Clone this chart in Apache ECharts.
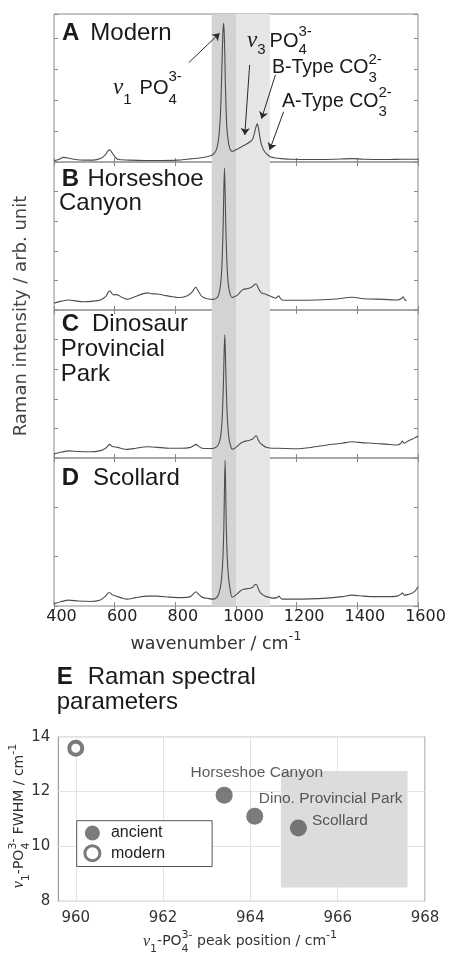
<!DOCTYPE html>
<html><head><meta charset="utf-8">
<script src="https://cdn.jsdelivr.net/npm/echarts@6/dist/echarts.min.js"></script>
<style>html,body{margin:0;padding:0;background:#fff}#c{width:452px;height:955px}</style>
</head><body><div id="c"></div>
<script>
// ---------------- data ----------------
const xTicksTop = [400, 600, 800, 1000, 1200, 1400, 1600];
const panelNames = ['Modern', 'Horseshoe Canyon', 'Dinosaur Provincial Park', 'Scollard'];
const bandDark = [920, 1000];
const bandLight = [1000, 1112];

const modernSpec = [[400,0.03],[415,0.08],[432,0.15],[450,0.12],[470,0.08],[500,0.06],[530,0.06],[555,0.12],[568,0.22],[578,0.36],[584,0.39],[590,0.32],[597,0.22],[605,0.12],[615,0.08],[650,0.06],[700,0.05],[750,0.05],[806,0.06],[850,0.1],[880,0.13],[905,0.17],[920,0.22],[930,0.3],[937,0.45],[942,0.7],[946,1.1],[949,1.6],[952,2.5],[955,3.6],[957,4.2],[959,4.47],[961,4.2],[963,3.5],[965,2.5],[967,1.8],[970,1.1],[974,0.7],[979,0.45],[984,0.36],[988,0.34],[995,0.37],[1005,0.42],[1020,0.5],[1035,0.58],[1048,0.66],[1055,0.74],[1060,0.9],[1065,1.1],[1070,1.23],[1074,1.1],[1078,0.84],[1084,0.55],[1091,0.39],[1100,0.27],[1113,0.17],[1130,0.13],[1150,0.11],[1180,0.09],[1250,0.08],[1320,0.09],[1383,0.11],[1420,0.09],[1500,0.08],[1550,0.09],[1600,0.09]];

const horseSpec = [[400,0.23],[425,0.3],[448,0.34],[475,0.3],[498,0.28],[530,0.3],[553,0.34],[570,0.45],[580,0.62],[585,0.64],[591,0.55],[597,0.51],[605,0.52],[613,0.5],[625,0.42],[641,0.36],[660,0.42],[685,0.52],[707,0.58],[720,0.55],[740,0.54],[762,0.5],[790,0.45],[817,0.42],[840,0.48],[855,0.6],[864,0.74],[868,0.77],[875,0.65],[888,0.45],[905,0.38],[927,0.36],[940,0.45],[947,0.7],[952,1.2],[955,1.9],[958,3.0],[960,4.1],[962,4.79],[964,4.1],[966,3.0],[969,1.9],[972,1.2],[976,0.75],[981,0.52],[987,0.42],[995,0.45],[1005,0.5],[1015,0.62],[1025,0.7],[1037,0.72],[1047,0.75],[1055,0.8],[1062,0.87],[1067,0.88],[1073,0.75],[1080,0.62],[1088,0.56],[1097,0.54],[1105,0.5],[1113,0.47],[1122,0.43],[1130,0.4],[1136,0.44],[1141,0.48],[1146,0.4],[1152,0.34],[1200,0.33],[1267,0.34],[1330,0.37],[1383,0.43],[1420,0.38],[1487,0.36],[1531,0.34],[1545,0.38],[1551,0.45],[1556,0.36],[1562,0.31]];

const dinoSpec = [[400,0.14],[425,0.2],[448,0.24],[480,0.22],[520,0.21],[553,0.25],[570,0.33],[580,0.44],[584,0.46],[590,0.4],[597,0.38],[610,0.36],[625,0.31],[641,0.29],[670,0.33],[707,0.38],[740,0.36],[780,0.33],[820,0.33],[850,0.36],[862,0.43],[868,0.46],[876,0.4],[888,0.33],[910,0.32],[927,0.33],[940,0.42],[948,0.65],[953,1.1],[956,1.7],[959,2.7],[961,3.6],[963,4.16],[965,3.6],[967,2.7],[970,1.7],[973,1.1],[977,0.65],[982,0.42],[987,0.3],[995,0.32],[1005,0.4],[1015,0.5],[1025,0.55],[1037,0.58],[1047,0.61],[1055,0.64],[1062,0.72],[1067,0.75],[1073,0.62],[1080,0.5],[1090,0.42],[1100,0.36],[1120,0.33],[1141,0.33],[1200,0.31],[1250,0.36],[1300,0.44],[1350,0.5],[1383,0.55],[1420,0.51],[1450,0.5],[1500,0.46],[1531,0.44],[1544,0.5],[1548,0.57],[1555,0.5],[1565,0.56],[1580,0.63],[1590,0.68],[1600,0.74]];

const scollSpec = [[400,0.04],[425,0.09],[448,0.12],[480,0.1],[520,0.09],[553,0.12],[570,0.2],[580,0.27],[585,0.27],[591,0.23],[597,0.22],[610,0.19],[625,0.16],[641,0.14],[670,0.17],[707,0.2],[740,0.2],[780,0.18],[820,0.17],[850,0.19],[860,0.25],[868,0.29],[876,0.24],[888,0.18],[910,0.15],[927,0.14],[940,0.2],[948,0.36],[953,0.6],[957,1.0],[960,1.6],[962,2.4],[964,2.95],[966,2.4],[968,1.6],[971,1.0],[975,0.6],[980,0.36],[987,0.18],[995,0.2],[1005,0.25],[1015,0.31],[1025,0.34],[1037,0.35],[1047,0.36],[1055,0.38],[1062,0.43],[1067,0.44],[1073,0.36],[1080,0.27],[1090,0.22],[1100,0.19],[1120,0.16],[1135,0.17],[1141,0.2],[1147,0.16],[1152,0.14],[1200,0.14],[1300,0.16],[1350,0.19],[1383,0.22],[1420,0.2],[1450,0.19],[1500,0.19],[1531,0.2],[1544,0.24],[1548,0.27],[1555,0.22],[1565,0.23],[1580,0.26],[1590,0.3],[1600,0.39]];

const panelYMax = [4.77, 5, 5, 3];

// arrows in panel A: [start, end] in data units
const arrowsA = [[[844,3.2],[946,4.15]], [[1045,3.13],[1029,0.87]], [[1130,2.81],[1084,1.39]], [[1157,1.62],[1111,0.39]]];

// panel E
const ancientNames = ['Horseshoe Canyon', 'Dino. Provincial Park', 'Scollard'];
const ancientPos = [963.4, 964.1, 965.1];
const ancientFwhm = [11.87, 11.1, 10.67];
const modernPos = [960.0];
const modernFwhm = [13.58];
const rectPos = [964.7, 967.6];
const rectFwhm = [8.5, 12.75];
const eXTicks = [960, 962, 964, 966, 968];

// ---------------- helpers ----------------
const SANS = "'Liberation Sans', Arial, sans-serif";
const DJ = "'DejaVu Sans', Verdana, sans-serif";
const SERIF = "'Liberation Serif', 'Times New Roman', serif";
const ctx2d = document.createElement('canvas').getContext('2d');
function measure(text, size, family, weight, italic) {
  ctx2d.font = (italic ? 'italic ' : '') + (weight || 'normal') + ' ' + size + 'px ' + family;
  return ctx2d.measureText(text).width;
}
function mathText(tokens, o) {
  const children = [];
  let cx = 0;
  const fam = o.family, size = o.size;
  const ss = o.scriptSize || Math.round(size * 0.75);
  const color = o.color || '#1a1a1a';
  const supK = o.supK == null ? 0.5 : o.supK, subK = o.subK == null ? 0.55 : o.subK;
  tokens.forEach(tk => {
    if (tk.gap) cx += tk.gap;
    const sz = tk.size || size;
    if (tk.t) {
      const f = tk.f || fam, w = tk.b ? 'bold' : 'normal', it = !!tk.i;
      children.push({type: 'text', z: 100, x: cx, y: 0, style: {text: tk.t, fontFamily: f, fontSize: sz, fontWeight: w, fontStyle: it ? 'italic' : 'normal', fill: color, align: 'left', verticalAlign: 'middle'}});
      cx += measure(tk.t, sz, f, w, it);
    }
    let sw = 0;
    if (tk.sup) {
      children.push({type: 'text', z: 100, x: cx, y: -size * supK, style: {text: tk.sup, fontFamily: fam, fontSize: ss, fill: color, align: 'left', verticalAlign: 'middle'}});
      sw = Math.max(sw, measure(tk.sup, ss, fam));
    }
    if (tk.sub) {
      children.push({type: 'text', z: 100, x: cx, y: size * subK, style: {text: tk.sub, fontFamily: fam, fontSize: ss, fill: color, align: 'left', verticalAlign: 'middle'}});
      sw = Math.max(sw, measure(tk.sub, ss, fam));
    }
    cx += sw;
  });
  const off = o.align === 'center' ? -cx / 2 : 0;
  children.forEach(c => { c.x += off; });
  return {type: 'group', z: 100, x: o.x, y: o.y, rotation: o.rotation || 0, silent: true, children: children};
}

// ---------------- layout ----------------
const pTop = [14, 162, 310, 458];
const pLeft = 54, pW = 364, pH = 148;
const frame = '#8a8a8a';
const grids = pTop.map(t => ({left: pLeft, top: t, width: pW, height: pH, show: true, borderColor: frame, borderWidth: 1, backgroundColor: 'transparent'}));
grids.push({left: 58.3, top: 736.7, width: 366.7, height: 164.6, show: true, borderColor: frame, borderWidth: 1});

const xAxes = [], yAxes = [];
pTop.forEach((t, i) => {
  ['bottom', 'top'].forEach(pos => {
    xAxes.push({
      type: 'value', gridIndex: i, position: pos, min: xTicksTop[0], max: xTicksTop[xTicksTop.length - 1], interval: 200,
      axisLine: {show: false}, splitLine: {show: false},
      axisTick: {show: true, inside: true, length: 4, lineStyle: {color: frame, width: 1}},
      axisLabel: {show: pos === 'bottom' && i === 3, formatter: v => String(v), fontFamily: DJ, fontSize: 16, color: '#222', margin: 3, padding: [0, 0, 0, 15]}
    });
  });
  ['left', 'right'].forEach(pos => {
    yAxes.push({
      type: 'value', gridIndex: i, position: pos, min: 0, max: panelYMax[i], interval: 1,
      axisLine: {show: false}, splitLine: {show: false},
      axisTick: {show: true, inside: true, length: 4, lineStyle: {color: frame, width: 1}},
      axisLabel: {show: false}
    });
  });
});
xAxes.push({
  type: 'value', gridIndex: 4, min: 959.6, max: 968,
  axisLine: {show: false},
  axisTick: {show: false, customValues: eXTicks},
  axisLabel: {customValues: eXTicks, formatter: v => String(v), fontFamily: DJ, fontSize: 15, color: '#333', margin: 9},
  splitLine: {show: true, lineStyle: {color: '#e2e2e2', width: 1}}
});
yAxes.push({
  type: 'value', gridIndex: 4, min: 8, max: 14, interval: 2,
  axisLine: {show: false}, axisTick: {show: false},
  axisLabel: {fontFamily: DJ, fontSize: 15, color: '#333', margin: 8},
  splitLine: {show: true, lineStyle: {color: '#e2e2e2', width: 1}}
});

const specs = [modernSpec, horseSpec, dinoSpec, scollSpec];
const series = specs.map((d, i) => {
  const s = {
    type: 'line', name: panelNames[i], xAxisIndex: 2 * i, yAxisIndex: 2 * i, data: d,
    showSymbol: false, symbol: 'none', smooth: 0.25, z: 3,
    lineStyle: {color: '#4d4d4d', width: 1.1},
    markArea: {silent: true, data: [
      [{xAxis: bandDark[0], itemStyle: {color: '#d3d3d5'}}, {xAxis: bandDark[1]}],
      [{xAxis: bandLight[0], itemStyle: {color: '#e6e6e8'}}, {xAxis: bandLight[1]}]
    ]}
  };
  if (i === 0) {
    s.markLine = {
      silent: true, symbol: ['none', 'arrow'], symbolSize: 7,
      lineStyle: {color: '#2a2a2a', width: 1, type: 'solid'}, label: {show: false},
      data: arrowsA.map(a => [{coord: a[0]}, {coord: a[1]}])
    };
  }
  return s;
});

const ptLabelBase = {show: true, formatter: '{b}', fontFamily: SANS, fontSize: 15.5, color: '#333'};
const ptLabels = [
  Object.assign({}, ptLabelBase, {position: 'top', offset: [32.6, -1]}),
  Object.assign({}, ptLabelBase, {position: 'right', offset: [-9.5, -17.3]}),
  Object.assign({}, ptLabelBase, {position: 'right', offset: [0, -7.7]})
];
const markCol = '#5a5a5a';
series.push({
  type: 'scatter', name: 'ancient', xAxisIndex: 8, yAxisIndex: 8, symbol: 'circle', symbolSize: 17, z: 4,
  itemStyle: {color: markCol, borderColor: markCol, borderWidth: 0},
  data: ancientPos.map((x, i) => ({name: ancientNames[i], value: [x, ancientFwhm[i]], label: ptLabels[i]})),
  markArea: {silent: true, itemStyle: {color: '#dcdcdc'}, data: [[{coord: [rectPos[0], rectFwhm[0]]}, {coord: [rectPos[1], rectFwhm[1]]}]]}
});
series.push({
  type: 'scatter', name: 'modern', xAxisIndex: 8, yAxisIndex: 8, symbol: 'circle', symbolSize: 13, z: 4,
  itemStyle: {color: '#fff', borderColor: markCol, borderWidth: 4},
  data: modernPos.map((x, i) => [x, modernFwhm[i]])
});

// ---------------- text / graphics ----------------
const G = [];
// panel labels
G.push(mathText([{t: 'A', b: true}, {gap: 11}, {t: 'Modern'}], {x: 62, y: 33.5, family: SANS, size: 24}));
G.push(mathText([{t: 'B', b: true}, {gap: 8.5}, {t: 'Horseshoe'}], {x: 61.7, y: 179.3, family: SANS, size: 24}));
G.push(mathText([{t: 'Canyon'}], {x: 59, y: 203.5, family: SANS, size: 24}));
G.push(mathText([{t: 'C', b: true}, {gap: 13}, {t: 'Dinosaur'}], {x: 61.7, y: 324.5, family: SANS, size: 24}));
G.push(mathText([{t: 'Provincial'}], {x: 60.7, y: 349.5, family: SANS, size: 24}));
G.push(mathText([{t: 'Park'}], {x: 60.7, y: 374.7, family: SANS, size: 24}));
G.push(mathText([{t: 'D', b: true}, {gap: 14}, {t: 'Scollard'}], {x: 61.7, y: 478.3, family: SANS, size: 24}));
G.push(mathText([{t: 'E', b: true}, {gap: 15}, {t: 'Raman spectral'}], {x: 56.7, y: 677.8, family: SANS, size: 24}));
G.push(mathText([{t: 'parameters'}], {x: 56.7, y: 702.8, family: SANS, size: 24}));
// annotations panel A
G.push(mathText([{t: 'ν', i: true, f: SERIF, size: 23, sub: '1'}, {gap: 8}, {t: 'PO', sub: '4', sup: '3-'}], {x: 113, y: 88, family: SANS, size: 20, scriptSize: 15, supK: 0.55, subK: 0.6}));
G.push(mathText([{t: 'ν', i: true, f: SERIF, size: 23, sub: '3'}, {gap: 4}, {t: 'PO', sub: '4', sup: '3-'}], {x: 247, y: 41, family: SANS, size: 20, scriptSize: 15, supK: 0.45, subK: 0.45}));
G.push(mathText([{t: 'B-Type CO', sub: '3', sup: '2-'}], {x: 272, y: 68, family: SANS, size: 19.5, scriptSize: 15, supK: 0.42, subK: 0.5}));
G.push(mathText([{t: 'A-Type CO', sub: '3', sup: '2-'}], {x: 282, y: 102, family: SANS, size: 19.5, scriptSize: 15, supK: 0.45, subK: 0.5}));
// axis titles
G.push(mathText([{t: 'wavenumber / cm', sup: '-1'}], {x: 216, y: 644, family: DJ, size: 17.5, scriptSize: 13, supK: 0.4, align: 'center', color: '#333'}));
G.push({type: 'text', z: 100, x: 21, y: 316, rotation: Math.PI / 2, silent: true, style: {text: 'Raman intensity / arb. unit', fontFamily: DJ, fontSize: 18, fill: '#444', align: 'center', verticalAlign: 'middle'}});
G.push(mathText([{t: 'ν', i: true, f: SERIF, size: 16, sub: '1'}, {t: '-PO', sub: '4', sup: '3-'}, {t: ' peak position / cm', sup: '-1'}], {x: 240, y: 941.7, family: DJ, size: 14, scriptSize: 11, supK: 0.45, subK: 0.55, align: 'center', color: '#333'}));
G.push(mathText([{t: 'ν', i: true, f: SERIF, size: 16, sub: '1'}, {t: '-PO', sub: '4', sup: '3-'}, {t: ' FWHM / cm', sup: '-1'}], {x: 19, y: 816, family: DJ, size: 14, scriptSize: 11, supK: 0.45, subK: 0.5, align: 'center', color: '#333', rotation: Math.PI / 2}));

const option = {
  animation: false,
  backgroundColor: '#ffffff',
  grid: grids,
  xAxis: xAxes,
  yAxis: yAxes,
  legend: {
    show: true, left: 76.7, top: 820.7, orient: 'vertical', icon: 'circle',
    data: [{name: 'ancient'}, {name: 'modern', itemStyle: {borderWidth: 3, borderColor: markCol, color: '#fff'}}],
    itemWidth: 27, itemHeight: 15, itemGap: 3.2, padding: [4.3, 47, 4.3, 6.7],
    borderColor: '#555', borderWidth: 1, backgroundColor: '#fff', selectedMode: false,
    textStyle: {fontFamily: SANS, fontSize: 16, color: '#222'}
  },
  series: series,
  graphic: {elements: G}
};
const chart = echarts.init(document.getElementById('c'), null, {renderer: 'canvas'});
chart.setOption(option);
</script></body></html>
